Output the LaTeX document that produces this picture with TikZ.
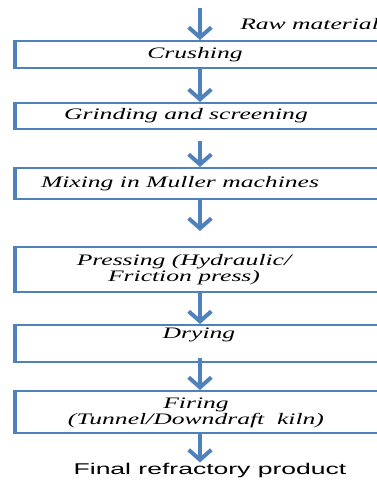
\documentclass[tikz,border=0pt]{standalone}
\usepackage{fontspec}
\usetikzlibrary{arrows.meta}
\newfontfamily\boxfont[FakeStretch=1.6]{Liberation Serif}
\newfontfamily\endfont[FakeStretch=1.7]{Liberation Sans}
\definecolor{flowblue}{RGB}{79,129,189}

\tikzset{
  stepbox/.style={draw=flowblue, line width=1.5pt, rectangle, minimum width=281.25pt, inner sep=0pt},
  sideline/.style={draw=flowblue, line width=3pt},
  flow/.style={draw=flowblue, line width=3pt, -{Straight Barb[length=7.5pt,width=17pt]}},
  steptext/.style={font=\boxfont\itshape\fontsize{12}{12}\selectfont, align=center, inner sep=0pt},
}

\begin{document}
\begin{tikzpicture}[x=0.75pt,y=0.75pt,yscale=-1,xscale=1]
\clip (0,0) rectangle (377,480);

%Shape: Rectangle [steps]
\node[stepbox, minimum height=20.25pt] (crush) at (204,54.5) {};
\node[stepbox, minimum height=19.5pt] (grind) at (204,116) {};
\node[stepbox, minimum height=23.25pt] (mix) at (204,183.5) {};
\node[stepbox, minimum height=33.75pt] (press) at (204,269.5) {};
\node[stepbox, minimum height=27.75pt] (dry) at (204,343.5) {};
\node[stepbox, minimum height=31.5pt] (fire) at (204,412) {};
\foreach \b in {crush,grind,mix,press,dry,fire}
  \draw[sideline] (\b.north west) -- (\b.south west);

% Text Node
\node[steptext, anchor=west] (raw) at (240,24) {Raw material};
\node[steptext] (crushtxt) at (195,55) {Crushing};
\node[steptext] (grindtxt) at (186,116) {Grinding and screening};
\node[steptext] (mixtxt) at (180,184) {Mixing in Muller machines};
\node[steptext] (presstxt) at (184,270) {Pressing (Hydraulic/\\Friction press)};
\node[steptext] (drytxt) at (199,335) {Drying};
\node[steptext] (firetxt) at (196,413) {Firing\\(Tunnel/Downdraft\ \ kiln)};
\node[font=\endfont\fontsize{11.7}{13}\selectfont, inner sep=0pt] (final) at (210,470) {Final refractory product};

%Straight Lines [arrows]
\coordinate (rawin) at (200,8);
\draw[flow] (rawin) -- (crush.north -| rawin);
\draw[flow] (crush.south -| rawin) -- (grind.north -| rawin);
\draw[flow, shorten <=8.25pt] (grind.south -| rawin) -- (mix.north -| rawin);
\draw[flow, shorten >=11.25pt] (mix.south -| rawin) -- (press.north -| rawin);
\draw[flow] (press.south -| rawin) -- (dry.north -| rawin);
\draw[flow, shorten <=-3.75pt] (dry.south -| rawin) -- (fire.north -| rawin);
\draw[flow] (fire.south -| rawin) -- (final.north -| rawin);
\end{tikzpicture}
\end{document}
